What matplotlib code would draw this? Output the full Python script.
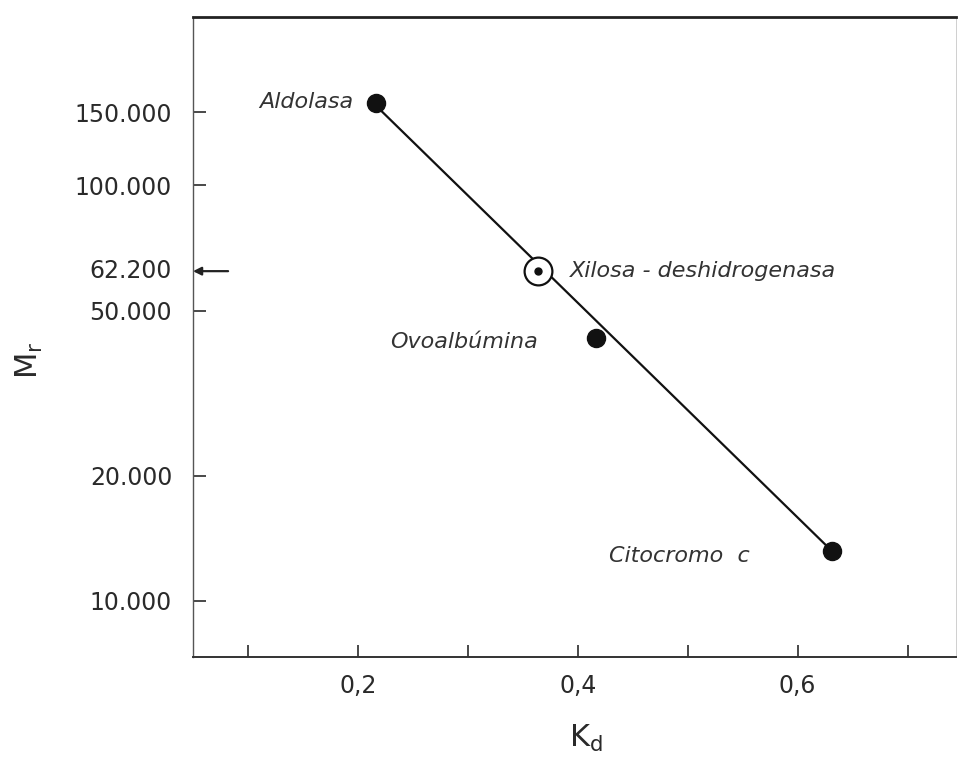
import numpy as np
import matplotlib.pyplot as plt
from matplotlib.ticker import FixedLocator, NullLocator

# gel filtration calibration: Kd vs relative molecular mass
proteins = ["Aldolasa", "Ovoalbúmina", "Citocromo  c"]
kd_std = [0.216, 0.417, 0.631]
mr_std = [158000, 43000, 13200]

kd_sample = 0.364
mr_sample = 62200
sample_name = "Xilosa - deshidrogenasa"

# calibration line end points
kd_fit = [0.216, 0.631]
mr_fit = [156000, 13200]

yticks = [10000, 20000, 50000, 100000, 150000]
ylabels = ["10.000", "20.000", "50.000", "100.000", "150.000"]
xticks_major = [0.2, 0.4, 0.6]
xlabels = ["0,2", "0,4", "0,6"]
xticks_minor = [0.1, 0.3, 0.5, 0.7]

ink = "#2a2a2a"
plt.rcParams['font.family'] = 'DejaVu Sans'

fig = plt.figure(figsize=(9.59, 7.61), dpi=100)
ax = fig.add_axes([193 / 959, 1 - 657 / 761, (956 - 193) / 959, (657 - 17) / 761])

ax.plot(kd_fit, mr_fit, color="#111111", lw=1.6, zorder=2)
ax.plot(kd_std, mr_std, "o", color="#111111", ms=13, zorder=3)
ax.plot([kd_sample], [mr_sample], "o", mfc="white", mec="#111111", mew=1.6,
        ms=20, zorder=3)
ax.plot([kd_sample], [mr_sample], "o", color="#111111", ms=5, zorder=4)

ax.set_yscale("log")
ax.set_xlim(0.05, 0.744)
ax.set_ylim(7330, 254400)

ax.yaxis.set_major_locator(FixedLocator(yticks))
ax.yaxis.set_minor_locator(NullLocator())
ax.set_yticklabels(ylabels)
ax.set_xticks(xticks_major)
ax.set_xticklabels(xlabels)
ax.set_xticks(xticks_minor, minor=True)

ax.tick_params(axis="y", direction="in", length=9, width=1.2, color=ink,
               pad=15, labelsize=17, labelcolor=ink, right=False)
ax.tick_params(axis="x", which="both", direction="in", length=9, width=1.2,
               color=ink, pad=12, labelsize=17, labelcolor=ink, top=False)

ax.spines["left"].set_linewidth(1.0)
ax.spines["left"].set_color("#555555")
ax.spines["bottom"].set_linewidth(1.4)
ax.spines["bottom"].set_color("#333333")
ax.spines["top"].set_linewidth(2.0)
ax.spines["top"].set_color("#222222")
ax.spines["right"].set_linewidth(0.6)
ax.spines["right"].set_color("#c8c8c8")

# marked sample mass on the y axis
ax.text(-21 / 763, mr_sample, "62.200", transform=ax.get_yaxis_transform(),
        ha="right", va="center", fontsize=17, color=ink)
ax.annotate("", xy=(0.0, mr_sample), xytext=(0.046, mr_sample),
            xycoords=ax.get_yaxis_transform(), textcoords=ax.get_yaxis_transform(),
            arrowprops=dict(arrowstyle="-|>", color="#222222", lw=1.6,
                            mutation_scale=12, shrinkA=0, shrinkB=0))

# labels for the calibration proteins
label_offsets = [(-16, 1), (-42, -3), (-59, -4)]
for name, x, y, off in zip(proteins, kd_std, mr_std, label_offsets):
    ax.annotate(name, (x, y), xytext=off, textcoords="offset points",
                ha="right", va="center", fontsize=16, style="italic",
                color="#333333")
ax.annotate(sample_name, (kd_sample, mr_sample), xytext=(23, 0),
            textcoords="offset points", ha="left", va="center", fontsize=16,
            style="italic", color="#333333")

fig.text(29 / 959, 1 - 360 / 761, r"$\mathregular{M_r}$", rotation=90,
         ha="center", va="center", fontsize=22, color=ink)
fig.text(586 / 959, 1 - 738 / 761, r"$\mathregular{K_d}$",
         ha="center", va="center", fontsize=22, color=ink)

fig.savefig("out.png", dpi=100)
